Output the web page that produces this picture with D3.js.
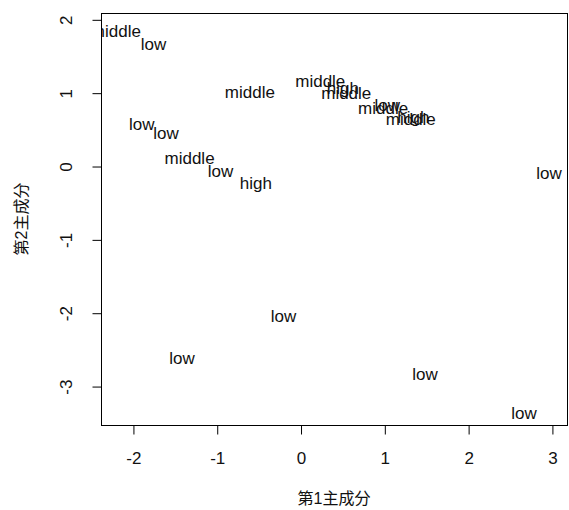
<!DOCTYPE html>
<html>
<head>
<meta charset="utf-8">
<script src="https://cdn.jsdelivr.net/npm/d3@7"></script>
<style>
  body { margin: 0; background: #fff; }
  text { font-family: "Liberation Sans", Arial, sans-serif; }
  .cjk { font-family: "Liberation Sans", "Noto Sans CJK JP", sans-serif; }
</style>
</head>
<body>
<div id="chart"></div>
<script>
// principal component scores and their group labels
const labels = ["middle", "low", "middle", "low", "low", "middle", "low", "high",
    "middle", "high", "middle", "middle", "low", "middle", "high",
    "low", "low", "low", "low", "low"];
const pc1 = [-2.21, -1.76, -0.61, -1.90, -1.61, -1.33, -0.96, -0.54,
    0.23, 0.50, 0.54, 0.98, 1.03, 1.31, 1.34,
    2.96, 2.66, -0.21, -1.42, 1.48];
const pc2 = [1.85, 1.67, 1.02, 0.58, 0.46, 0.11, -0.06, -0.23,
    1.17, 1.07, 1.00, 0.80, 0.84, 0.65, 0.68,
    -0.09, -3.36, -2.04, -2.61, -2.83];
const xTicks = [-2, -1, 0, 1, 2, 3];
const yTicks = [-3, -2, -1, 0, 1, 2];

const data = labels.map((d, i) => ({ label: d, x: pc1[i], y: pc2[i] }));

const W = 569, H = 510;
const box = { left: 101, right: 567, top: 13, bottom: 425 };
const fs = 17;

const svg = d3.select("#chart").append("svg")
    .attr("width", W)
    .attr("height", H);

const x = d3.scaleLinear()
    .domain([-2.387, 3.174])
    .range([box.left, box.right]);

const y = d3.scaleLinear()
    .domain([-3.524, 2.093])
    .range([box.bottom, box.top]);

svg.append("clipPath")
    .attr("id", "plotclip")
    .append("rect")
    .attr("x", box.left)
    .attr("y", box.top)
    .attr("width", box.right - box.left)
    .attr("height", box.bottom - box.top);

// points drawn as their labels (like R's text())
svg.append("g")
    .attr("clip-path", "url(#plotclip)")
    .selectAll("text")
    .data(data)
    .enter()
    .append("text")
    .attr("x", d => x(d.x))
    .attr("y", d => y(d.y))
    .attr("dy", "0.35em")
    .attr("text-anchor", "middle")
    .attr("font-size", fs + "px")
    .attr("fill", "#111")
    .text(d => d.label);

// box
svg.append("rect")
    .attr("x", box.left + 0.5)
    .attr("y", box.top + 0.5)
    .attr("width", box.right - box.left)
    .attr("height", box.bottom - box.top)
    .attr("fill", "none")
    .attr("stroke", "#000")
    .attr("stroke-width", 1);

const xAxis = svg.append("g")
    .attr("transform", `translate(0,${box.bottom + 0.5})`)
    .call(d3.axisBottom(x).tickValues(xTicks).tickSize(9).tickPadding(17).tickFormat(d => String(d)));
xAxis.select(".domain").remove();
xAxis.selectAll("text").attr("font-size", fs + "px").attr("fill", "#111")
    .style("font-family", "'Liberation Sans', Arial, sans-serif");
xAxis.selectAll("line").attr("stroke", "#000");

const yAxis = svg.append("g")
    .attr("transform", `translate(${box.left + 0.5},0)`)
    .call(d3.axisLeft(y).tickValues(yTicks).tickSize(9).tickFormat(d => String(d)));
yAxis.select(".domain").remove();
yAxis.selectAll("line").attr("stroke", "#000");
yAxis.selectAll("text")
    .attr("x", null)
    .attr("text-anchor", "middle")
    .attr("font-size", fs + "px")
    .attr("fill", "#111")
    .style("font-family", "'Liberation Sans', Arial, sans-serif")
    .attr("transform", "translate(-35,0) rotate(-90)")
    .attr("dy", "0.35em");

svg.append("text")
    .attr("class", "cjk")
    .attr("x", (box.left + box.right) / 2)
    .attr("y", 498)
    .attr("dy", "0.35em")
    .attr("text-anchor", "middle")
    .attr("font-size", "16px")
    .attr("fill", "#111")
    .text("第1主成分");

svg.append("text")
    .attr("class", "cjk")
    .attr("transform", `translate(21,${(box.top + box.bottom) / 2}) rotate(-90)`)
    .attr("dy", "0.35em")
    .attr("text-anchor", "middle")
    .attr("font-size", "16px")
    .attr("fill", "#111")
    .text("第2主成分");
</script>
</body>
</html>
